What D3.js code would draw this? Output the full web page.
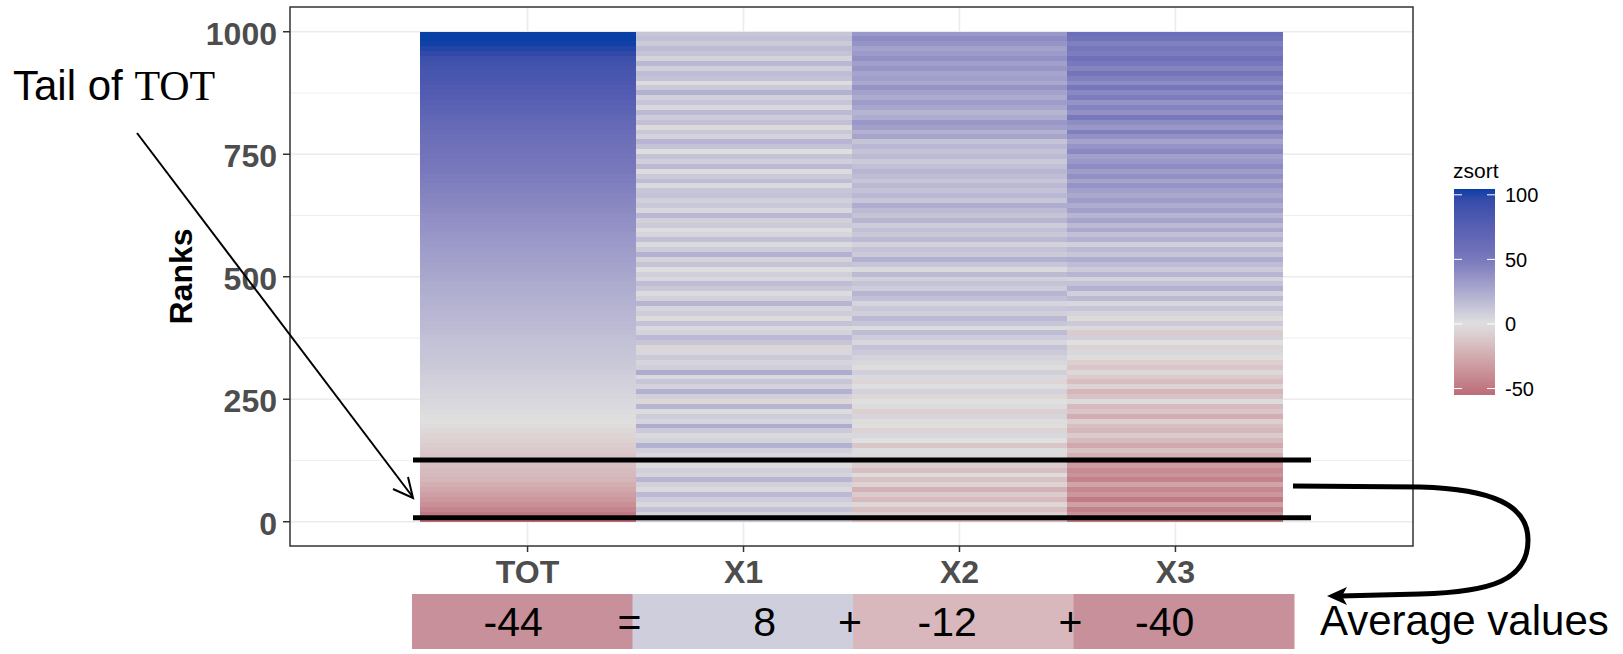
<!DOCTYPE html>
<html>
<head>
<meta charset="utf-8">
<script src="https://cdn.jsdelivr.net/npm/d3@7"></script>
<style>
  body { margin: 0; background: #fff; }
  svg { display: block; font-family: "Liberation Sans", Arial, sans-serif; }
</style>
</head>
<body>
<svg id="chart" width="1623" height="654"></svg>
<script>
// categories and ticks
const cats = ["TOT", "X1", "X2", "X3"];
const yTicks = [0, 250, 500, 750, 1000];
const yMinor = [125, 375, 625, 875];
const legendTicks = [-50, 0, 50, 100];
const binSize = 10; // each value covers 10 ranks (bin 0 = ranks 1..10)

// zsort per bin, bottom rank first
const totBins = [-55,-49,-43,-38,-34,-31,-27,-23,-20,-18.5,
  -17,-15.5,-14,-12,-10.5,-9,-7,-5.5,-4,-2,
  -0.5,1,2,3,4,4.5,5.5,6.5,7,8,
  9,10,11,12,12.5,13.5,14,15,16,17,
  18,19,19.5,20.5,21.5,22,23,24,25,26,
  27,28,29,30,31,32,33,34,35,36.5,
  37.5,38.5,39.5,41,42,43,44,45,46,47.5,
  48.5,50,51,52.5,54,55.5,57,58.5,60,61.5,
  63,65,67,70,72,74.5,77,79,80.5,82,
  83.5,85,87,89,92,98,102,104,104.5,104.5];
const x1Bins = [10,6,14,4,9,18,3,7,20,5,
  8,2,11,4,8,22,6,3,10,24,
  5,9,2,20,-4,7,22,6,12,3,
  25,8,5,10,4,-5,12,18,6,3,
  14,-3,9,5,20,7,2,11,16,4,
  8,1,13,6,22,9,3,15,5,-2,
  10,7,19,4,11,8,14,12,3,16,
  10,2,18,8,13,1,14,20,6,11,
  -3,15,9,18,4,12,7,22,10,2,
  14,16,8,19,6,13,17,10,15,12];
const x2Bins = [-20,-8,-15,-4,-18,-10,-22,-6,-14,-2,
  -16,-9,-12,-3,2,-12,0,4,-6,1,
  -2,5,-8,2,0,-4,6,1,-5,3,
  8,-2,4,6,10,14,4,9,16,2,
  12,18,8,11,5,15,20,9,13,7,
  17,3,12,22,10,14,6,18,11,15,
  9,20,13,17,24,12,19,14,18,12,
  16,20,15,10,17,14,19,13,28,22,
  30,34,24,20,27,32,25,29,36,26,
  31,28,35,30,38,33,29,36,40,34];
const x3Bins = [-50,-38,-45,-30,-48,-35,-42,-28,-44,-36,
  -40,-32,-46,-22,-14,-26,-18,-10,-20,-15,
  -8,-24,-12,-18,2,-14,-20,-6,-16,-10,
  -4,-12,-8,-2,4,-6,0,8,-10,3,
  10,-3,6,12,4,18,8,22,14,6,
  20,10,16,24,12,18,8,22,15,26,
  18,28,20,30,24,32,26,30,36,28,
  38,32,40,34,30,42,36,28,38,46,
  34,40,50,38,44,36,48,42,52,40,
  46,54,44,50,58,48,52,46,56,60];

// annotations
const tailRanks = [8, 126];
const avgValues = [-44, 8, -12, -40];
const avgOps = ["=", "+", "+"];
const avgFills = ["#c8909a", "#cfcedd", "#d8b8bd", "#c8909a"];

function chart() {
  const svg = d3.select("#chart");
  const panel = {left: 290, right: 1413, top: 7, bottom: 546};

  // discrete x: 0.6 units of padding on each side, like ggplot
  const unit = (panel.right - panel.left) / (cats.length + 1.2);
  const x = d3.scaleBand().domain(cats)
    .range([panel.left + 0.6 * unit, panel.right - 0.6 * unit]);

  // tiles span 0.5..1000.5, expanded 5%
  const y = d3.scaleLinear().domain([-49.5, 1050.5]).range([panel.bottom, panel.top]);

  const series = [totBins, x1Bins, x2Bins, x3Bins];
  const all = series.flat();
  const zMin = d3.min(all), zMax = d3.max(all);
  const color = d3.scaleLinear()
    .domain([zMin, 0, 50, 100, zMax])
    .range(["#bb6c78", "#e0e0e0", "#7878bc", "#2d48a8", "#0a3fa6"])
    .interpolate(d3.interpolateLab);

  // grid
  const g = svg.append("g");
  g.selectAll(".minor").data(yMinor).enter().append("line")
    .attr("x1", panel.left).attr("x2", panel.right)
    .attr("y1", d => y(d)).attr("y2", d => y(d))
    .attr("stroke", "#ebebeb").attr("stroke-width", 0.8);
  g.selectAll(".major").data(yTicks).enter().append("line")
    .attr("x1", panel.left).attr("x2", panel.right)
    .attr("y1", d => y(d)).attr("y2", d => y(d))
    .attr("stroke", "#ebebeb").attr("stroke-width", 1.6);
  g.selectAll(".vmajor").data(cats).enter().append("line")
    .attr("y1", panel.top).attr("y2", panel.bottom)
    .attr("x1", d => x(d) + x.bandwidth() / 2).attr("x2", d => x(d) + x.bandwidth() / 2)
    .attr("stroke", "#ebebeb").attr("stroke-width", 1.6);

  // tiles
  let tiles = [];
  series.forEach(function (vals, ci) {
    vals.forEach(function (v, i) {
      tiles.push({cat: cats[ci], lo: i * binSize + 0.5, hi: (i + 1) * binSize + 0.5, z: v});
    });
  });
  g.append("g").attr("shape-rendering", "crispEdges")
    .selectAll(".tile").data(tiles).enter().append("rect")
    .attr("x", d => x(d.cat))
    .attr("width", x.bandwidth())
    .attr("y", d => y(d.hi))
    .attr("height", d => y(d.lo) - y(d.hi))
    .attr("fill", d => color(d.z));

  // panel border
  svg.append("rect")
    .attr("x", panel.left).attr("y", panel.top)
    .attr("width", panel.right - panel.left).attr("height", panel.bottom - panel.top)
    .attr("fill", "none").attr("stroke", "#333").attr("stroke-width", 1.5);

  // y axis
  const yAxis = svg.append("g");
  yAxis.selectAll("line").data(yTicks).enter().append("line")
    .attr("x1", panel.left - 7).attr("x2", panel.left)
    .attr("y1", d => y(d)).attr("y2", d => y(d))
    .attr("stroke", "#333").attr("stroke-width", 1.5);
  yAxis.selectAll("text").data(yTicks).enter().append("text")
    .attr("x", panel.left - 13).attr("y", d => y(d)).attr("dy", "0.4em")
    .attr("text-anchor", "end")
    .style("font-size", "32px").style("font-weight", "bold").attr("fill", "#4d4d4d")
    .text(d => d);
  svg.append("text")
    .attr("transform", "translate(192," + (panel.top + panel.bottom) / 2 + ") rotate(-90)")
    .attr("text-anchor", "middle")
    .style("font-size", "32px").style("font-weight", "bold").attr("fill", "#000")
    .text("Ranks");

  // x axis
  const xAxis = svg.append("g");
  xAxis.selectAll("line").data(cats).enter().append("line")
    .attr("x1", d => x(d) + x.bandwidth() / 2).attr("x2", d => x(d) + x.bandwidth() / 2)
    .attr("y1", panel.bottom).attr("y2", panel.bottom + 6)
    .attr("stroke", "#333").attr("stroke-width", 1.5);
  xAxis.selectAll("text").data(cats).enter().append("text")
    .attr("x", d => x(d) + x.bandwidth() / 2).attr("y", 583)
    .attr("text-anchor", "middle")
    .style("font-size", "32px").style("font-weight", "bold").attr("fill", "#4d4d4d")
    .text(d => d);

  // legend (colourbar)
  const leg = {x: 1454, w: 41, top: 189, bottom: 395};
  const ly = d3.scaleLinear().domain([zMin, zMax]).range([leg.bottom, leg.top]);
  const grad = svg.append("defs").append("linearGradient")
    .attr("id", "zgrad").attr("x1", 0).attr("x2", 0).attr("y1", 1).attr("y2", 0);
  d3.range(0, 1.0001, 0.05).forEach(function (t) {
    grad.append("stop").attr("offset", t).attr("stop-color", color(zMin + t * (zMax - zMin)));
  });
  svg.append("text").attr("x", 1453).attr("y", 178)
    .style("font-size", "21px").attr("fill", "#000").text("zsort");
  svg.append("rect").attr("x", leg.x).attr("y", leg.top)
    .attr("width", leg.w).attr("height", leg.bottom - leg.top)
    .attr("fill", "url(#zgrad)");
  legendTicks.forEach(function (t) {
    [[leg.x, leg.x + 8], [leg.x + leg.w - 8, leg.x + leg.w]].forEach(function (p) {
      svg.append("line").attr("x1", p[0]).attr("x2", p[1])
        .attr("y1", ly(t)).attr("y2", ly(t))
        .attr("stroke", "#fff").attr("stroke-width", 1);
    });
    svg.append("text").attr("x", 1505).attr("y", ly(t)).attr("dy", "0.36em")
      .style("font-size", "20px").attr("fill", "#000").text(t);
  });

  // tail lines
  svg.selectAll(".tail").data(tailRanks).enter().append("line")
    .attr("x1", 413).attr("x2", 1311)
    .attr("y1", d => y(d)).attr("y2", d => y(d))
    .attr("stroke", "#000").attr("stroke-width", 5);

  // "Tail of TOT" label + arrow
  const lab = svg.append("text").attr("x", 13).attr("y", 100)
    .style("font-size", "42px").attr("fill", "#000");
  lab.append("tspan").text("Tail of ");
  lab.append("tspan").style("font-family", "'Liberation Serif', 'Times New Roman', serif").text("TOT");
  svg.append("line").attr("x1", 137).attr("y1", 133).attr("x2", 412).attr("y2", 496)
    .attr("stroke", "#000").attr("stroke-width", 2);
  svg.append("path").attr("d", "M393,489 L413,498 L408,477")
    .attr("fill", "none").attr("stroke", "#000").attr("stroke-width", 2);

  // curved arrow to the averages
  svg.append("path")
    .attr("d", "M1293,486 L1420,487 C1492,489 1528,505 1528,540 C1528,580 1492,592 1420,594 L1340,596")
    .attr("fill", "none").attr("stroke", "#000").attr("stroke-width", 5);
  svg.append("path").attr("d", "M1327,596 L1347,587 L1342,596 L1347,605 Z").attr("fill", "#000");

  // average boxes
  const box = {x0: 412, w: 220.5, top: 594, h: 55};
  const numOffset = [-9, 22, -16, -19];
  svg.selectAll(".avg").data(avgValues).enter().append("rect")
    .attr("x", (d, i) => box.x0 + i * box.w).attr("y", box.top)
    .attr("width", box.w + 0.5).attr("height", box.h)
    .attr("fill", (d, i) => avgFills[i]);
  svg.selectAll(".avgText").data(avgValues).enter().append("text")
    .attr("x", (d, i) => box.x0 + (i + 0.5) * box.w + numOffset[i]).attr("y", 636)
    .attr("text-anchor", "middle")
    .style("font-size", "41px").attr("fill", "#000")
    .text(d => d);
  svg.selectAll(".op").data(avgOps).enter().append("text")
    .attr("x", (d, i) => box.x0 + (i + 1) * box.w - 3).attr("y", 636)
    .attr("text-anchor", "middle")
    .style("font-size", "41px").attr("fill", "#000")
    .text(d => d);
  svg.append("text").attr("x", 1320).attr("y", 635)
    .style("font-size", "42px").attr("fill", "#000").text("Average values");
}

chart();
</script>
</body>
</html>
